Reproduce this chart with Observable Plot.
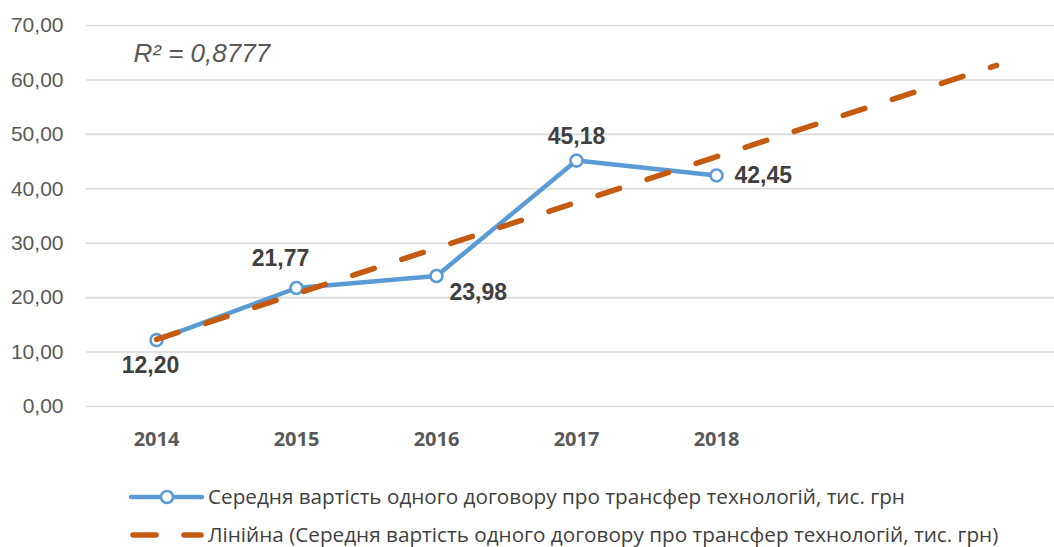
<!DOCTYPE html>
<html>
<head>
<meta charset="utf-8">
<script src="https://cdn.jsdelivr.net/npm/d3@7"></script>
<script src="https://cdn.jsdelivr.net/npm/@observablehq/plot@0.6"></script>
<style>
  html, body { margin: 0; padding: 0; background: #fff; }
  #chart { width: 1054px; height: 547px; position: relative; overflow: hidden; }
  .legend { position: absolute; left: 0; width: 1054px; height: 30px; }
  .legend svg { position: absolute; left: 0; top: 0; }
  .legend span { position: absolute; left: 208px; top: 50%; transform: translateY(-52%);
    font-family: "Open Sans", sans-serif; font-size: 20.7px; color: #404040; white-space: nowrap; }
</style>
</head>
<body>
<div id="chart"></div>
<script>
// ---- data ----
const years = [2014, 2015, 2016, 2017, 2018];
const values = [12.20, 21.77, 23.98, 45.18, 42.45];
const valueLabels = ["12,20", "21,77", "23,98", "45,18", "42,45"];
const labelPlacement = ["below", "above-left", "below-right", "above", "right"];
const yTicks = [0, 10, 20, 30, 40, 50, 60, 70];
const xTicks = [2014, 2015, 2016, 2017, 2018];
const trendYears = [2014, 2020];
const r2Text = "R² = 0,8777";
const seriesName = "Середня вартість одного договору про трансфер технологій, тис. грн";
const trendName = "Лінійна (Середня вартість одного договору про трансфер технологій, тис. грн)";

const data = years.map((y, i) => ({year: y, value: values[i], label: valueLabels[i], place: labelPlacement[i]}));

// least-squares linear trend on the series (as in the Excel trendline)
const idx = years.map((_, i) => i + 1);
const mx = d3.mean(idx), my = d3.mean(values);
const slope = d3.sum(idx, (x, i) => (x - mx) * (values[i] - my)) / d3.sum(idx, x => (x - mx) ** 2);
const intercept = my - slope * mx;
const trend = trendYears.map(yr => ({year: yr, value: intercept + slope * (yr - years[0] + 1)}));

const blue = "#5B9BD5", orange = "#C55A11";
const labelFont = {fontFamily: "Liberation Sans, Arial, sans-serif", fontSize: 23, fontWeight: "bold", fill: "#404040"};
const lbl = (place, opts) => Plot.text(data.filter(d => d.place === place), {x: "year", y: "value", text: "label", ...labelFont, ...opts});

const plot = Plot.plot({
  width: 1054,
  height: 460,
  marginLeft: 86,
  marginRight: 0,
  marginTop: 25,
  marginBottom: 54,
  style: {background: "transparent"},
  x: {domain: [2013.5, 2013.5 + 968 / 140], axis: null},
  y: {domain: [0, 70], axis: null},
  marks: [
    Plot.gridY(yTicks, {stroke: "#d9d9d9", strokeOpacity: 1, strokeWidth: 1.6}),
    Plot.axisY(yTicks, {label: null, tickSize: 0, tickPadding: 23, tickFormat: d => d3.format(".2f")(d).replace(".", ","),
      fontFamily: "Liberation Sans, Arial, sans-serif", fontSize: 21, fill: "#595959"}),
    Plot.axisX(xTicks, {label: null, tickSize: 0, tickPadding: 25, tickFormat: d => String(d),
      fontFamily: "Open Sans, sans-serif", fontSize: 20, fontWeight: "bold", fill: "#595959"}),
    Plot.line(data, {x: "year", y: "value", stroke: blue, strokeWidth: 4.5, strokeLinejoin: "round", strokeLinecap: "round"}),
    Plot.dot(data, {x: "year", y: "value", r: 6, fill: "white", stroke: blue, strokeWidth: 2.6}),
    Plot.line(trend, {x: "year", y: "value", stroke: orange, strokeWidth: 5.5, strokeDasharray: "22.6,29", strokeLinecap: "round"}),
    lbl("below", {dx: -6, dy: 26}),
    lbl("above-left", {dx: -16, dy: -29}),
    lbl("below-right", {dx: 13, dy: 17, textAnchor: "start"}),
    lbl("above", {dy: -24}),
    lbl("right", {dx: 18, dy: 0, textAnchor: "start"}),
    Plot.text([r2Text], {frameAnchor: "top-left", dx: 47, dy: 28, lineAnchor: "middle", textAnchor: "start",
      fontFamily: "Liberation Sans, Arial, sans-serif", fontSize: 26, fontStyle: "italic", fill: "#595959"})
  ]
});
const chart = document.getElementById("chart");
chart.appendChild(plot);

function legendRow(top, symbolSvg, text) {
  const row = document.createElement("div");
  row.className = "legend";
  row.style.top = top + "px";
  row.innerHTML = symbolSvg + "<span></span>";
  row.querySelector("span").textContent = text;
  chart.appendChild(row);
}
legendRow(482,
  `<svg width="220" height="30"><line x1="131" x2="202" y1="15" y2="15" stroke="${blue}" stroke-width="4.5" stroke-linecap="round"/><circle cx="167" cy="15" r="6" fill="white" stroke="${blue}" stroke-width="2.6"/></svg>`,
  seriesName);
legendRow(520,
  `<svg width="220" height="30"><line x1="133" x2="156" y1="15" y2="15" stroke="${orange}" stroke-width="5.5" stroke-linecap="round"/><line x1="184" x2="201" y1="15" y2="15" stroke="${orange}" stroke-width="5.5" stroke-linecap="round"/></svg>`,
  trendName);
</script>
</body>
</html>
